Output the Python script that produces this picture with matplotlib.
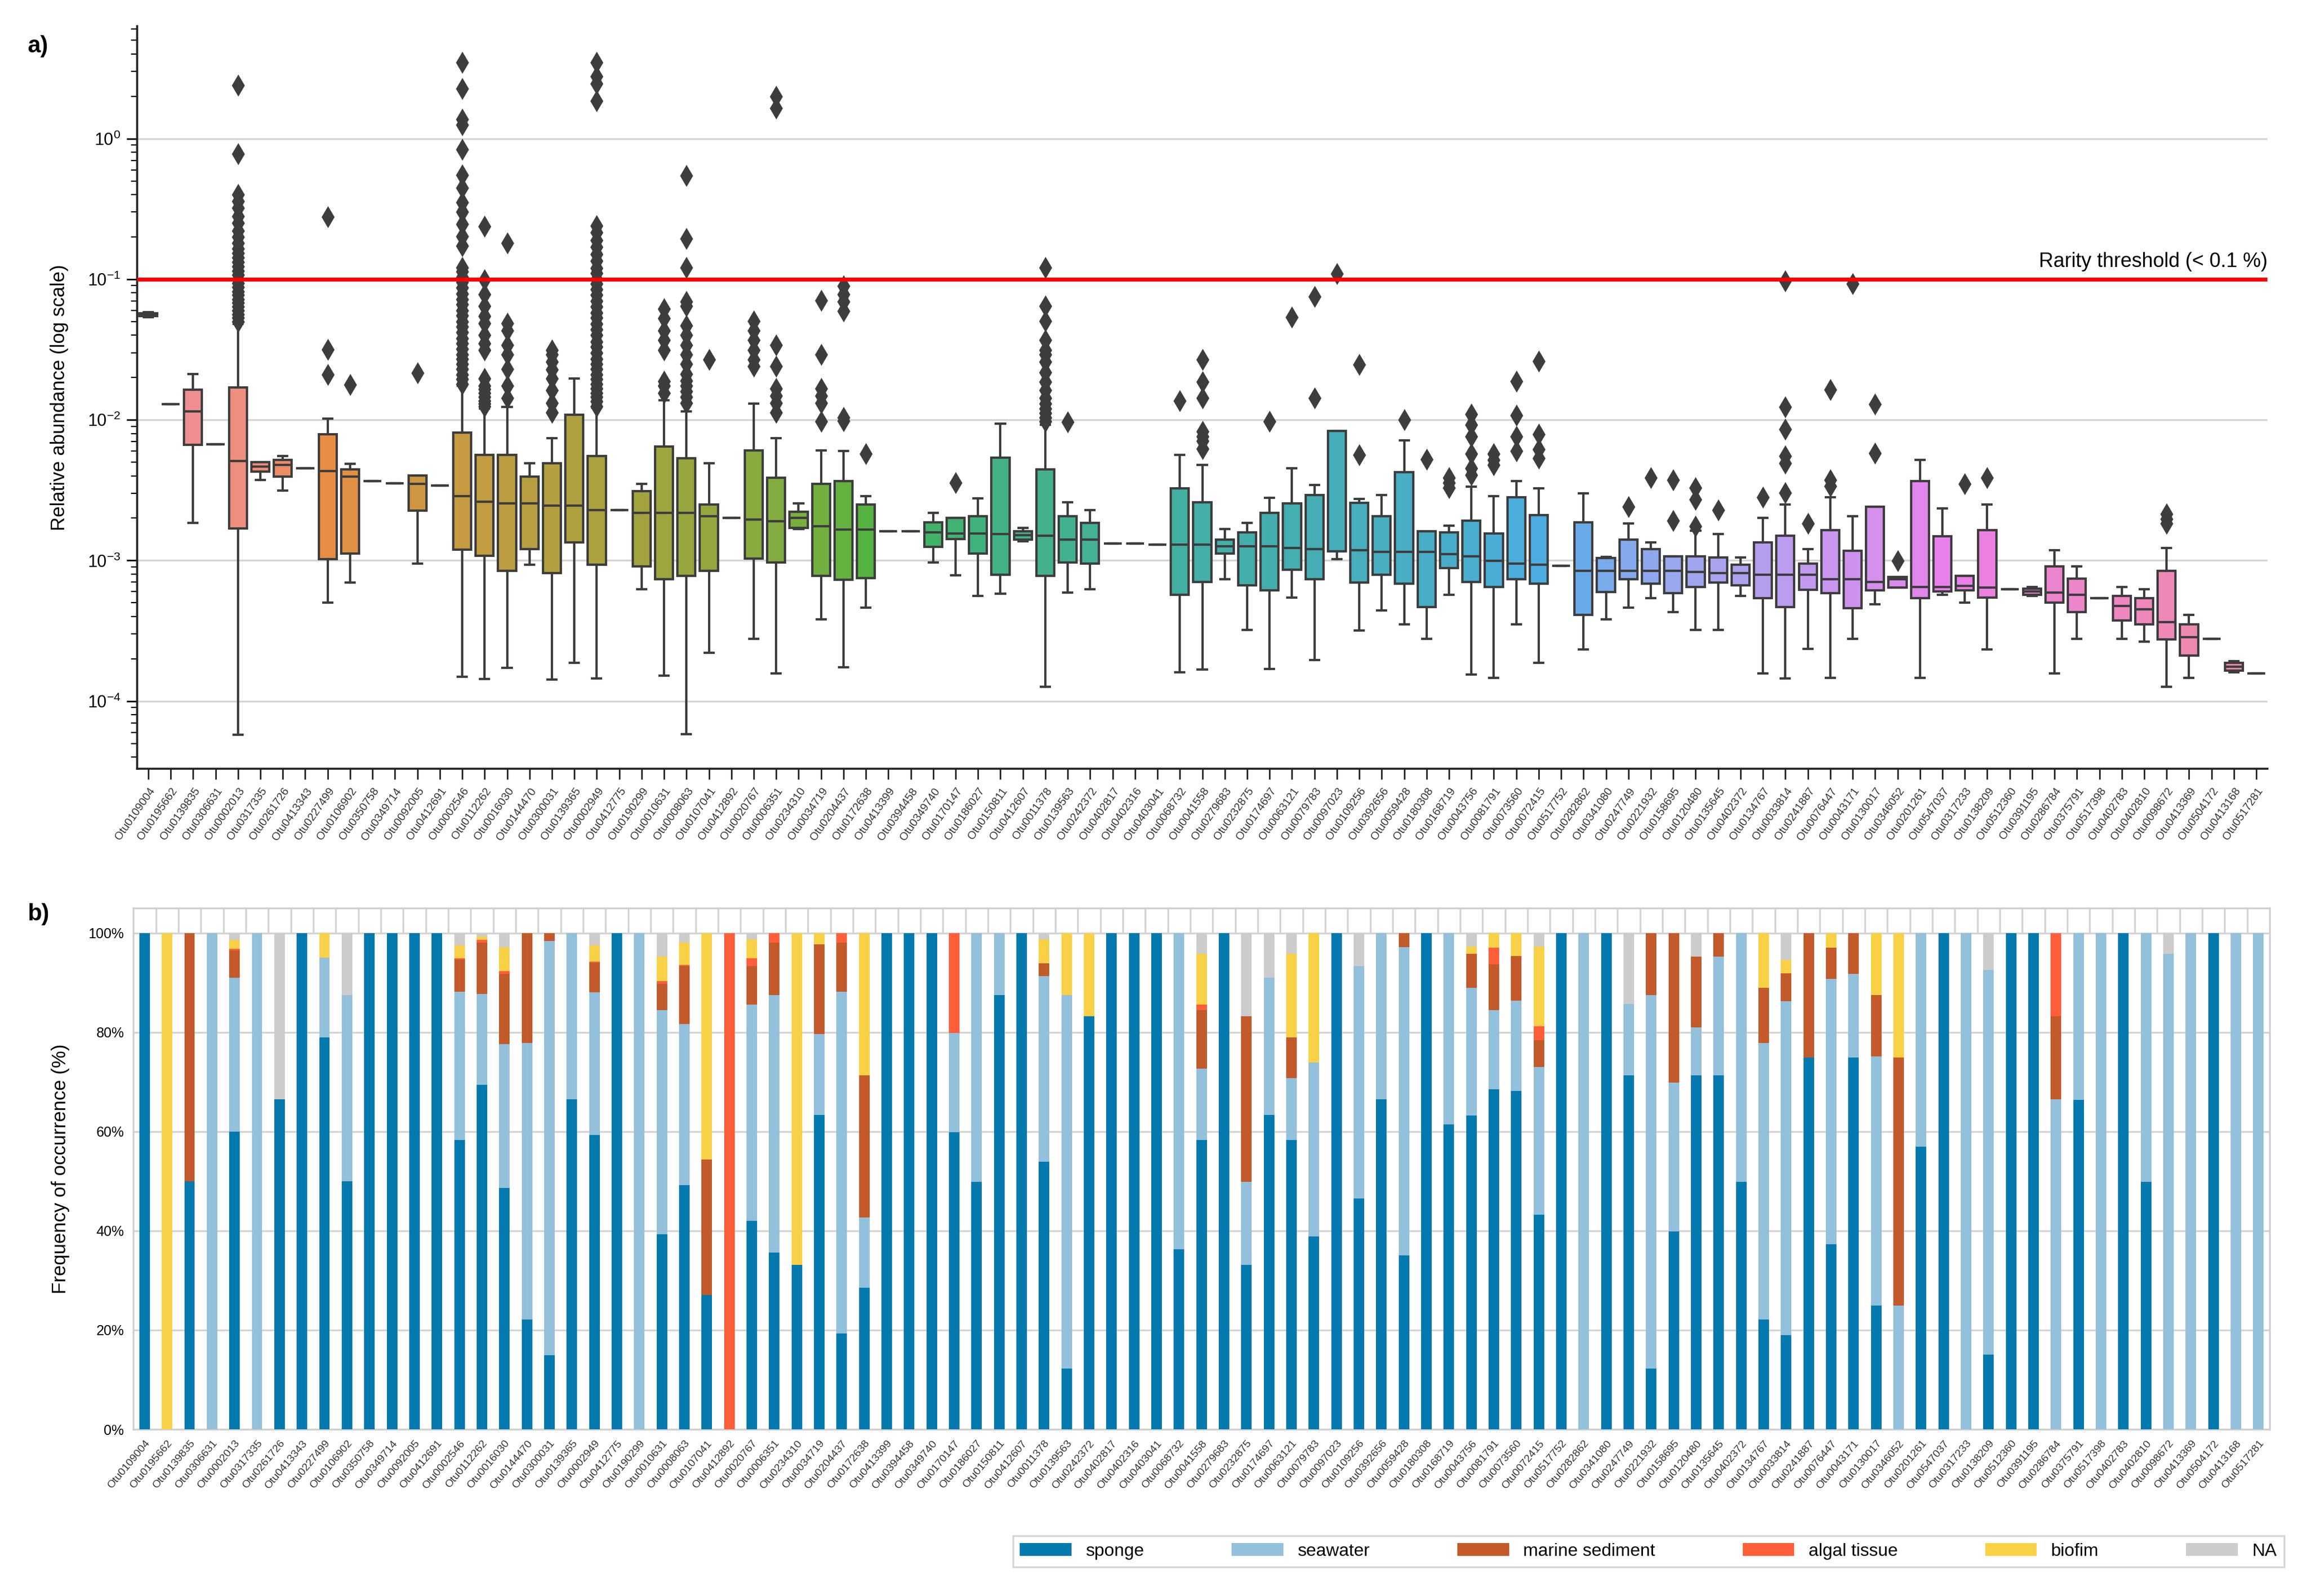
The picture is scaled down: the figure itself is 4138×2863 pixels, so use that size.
import matplotlib
matplotlib.use("Agg")
import matplotlib.pyplot as plt
from matplotlib.patches import Patch
from matplotlib.ticker import LogLocator, NullFormatter, FixedLocator, FuncFormatter
import seaborn as sns

plt.rcParams['font.family'] = ['Liberation Sans', 'DejaVu Sans']
plt.rcParams['mathtext.default'] = 'regular'

# OTU names (same order in both panels)
otus = ["Otu0109004", "Otu0195662", "Otu0139835", "Otu0306631", "Otu0002013", "Otu0317335",
        "Otu0261726", "Otu0413343", "Otu0227499", "Otu0106902", "Otu0350758", "Otu0349714",
        "Otu0092005", "Otu0412691", "Otu0002546", "Otu0112262", "Otu0016030", "Otu0144470",
        "Otu0300031", "Otu0139365", "Otu0002949", "Otu0412775", "Otu0190299", "Otu0010631",
        "Otu0008063", "Otu0107041", "Otu0412892", "Otu0020767", "Otu0006351", "Otu0234310",
        "Otu0034719", "Otu0204437", "Otu0172638", "Otu0413399", "Otu0394458", "Otu0349740",
        "Otu0170147", "Otu0186027", "Otu0150811", "Otu0412607", "Otu0011378", "Otu0139563",
        "Otu0242372", "Otu0402817", "Otu0402316", "Otu0403041", "Otu0068732", "Otu0041558",
        "Otu0279683", "Otu0232875", "Otu0174697", "Otu0063121", "Otu0079783", "Otu0097023",
        "Otu0109256", "Otu0392656", "Otu0059428", "Otu0180308", "Otu0168719", "Otu0043756",
        "Otu0081791", "Otu0073560", "Otu0072415", "Otu0517752", "Otu0282862", "Otu0341080",
        "Otu0247749", "Otu0221932", "Otu0158695", "Otu0120480", "Otu0135645", "Otu0402372",
        "Otu0134767", "Otu0033814", "Otu0241887", "Otu0076447", "Otu0043171", "Otu0130017",
        "Otu0346052", "Otu0201261", "Otu0547037", "Otu0317233", "Otu0138209", "Otu0512360",
        "Otu0391195", "Otu0286784", "Otu0375791", "Otu0517398", "Otu0402783", "Otu0402810",
        "Otu0098672", "Otu0413369", "Otu0504172", "Otu0413168", "Otu0517281"]

# box statistics for relative abundance
med = [0.056, 0.0129, 0.01153, 0.00673, 0.0051, 0.00464, 0.00479, 0.00453, 0.00432, 0.00393,
       0.00366, 0.00355, 0.00349, 0.00341, 0.00286, 0.00262, 0.00254, 0.00254, 0.00246, 0.00246,
       0.00228, 0.00228, 0.00219, 0.00219, 0.00219, 0.00206, 0.0020, 0.00195, 0.0019, 0.0020,
       0.00175, 0.00166, 0.00166, 0.00161, 0.00161, 0.00158, 0.00156, 0.00156, 0.00154, 0.00152,
       0.0015, 0.00141, 0.00141, 0.00132, 0.00132, 0.0013, 0.0013, 0.0013, 0.00126, 0.00126,
       0.00126, 0.00123, 0.0012, 0.00116, 0.00118, 0.00115, 0.00115, 0.00115, 0.00111, 0.00107,
       0.00099, 0.000946, 0.000931, 0.000916, 0.000847, 0.000847, 0.00084, 0.00084, 0.00084, 0.000827,
       0.000814, 0.000814, 0.000795, 0.000795, 0.000795, 0.000735, 0.000735, 0.000706, 0.000735, 0.00065,
       0.00065, 0.00066, 0.000641, 0.000627, 0.000603, 0.000589, 0.00057, 0.000541, 0.000475, 0.00045,
       0.000366, 0.000284, 0.000277, 0.000175, 0.000158]
q1 = [0.0548, 0.0129, 0.00663, 0.00673, 0.001686, 0.00429, 0.00396, 0.00453, 0.00102, 0.001117,
      0.00366, 0.00355, 0.00226, 0.00341, 0.00119, 0.00108, 0.00084, 0.00121, 0.000814, 0.00135,
      0.000931, 0.00228, 0.00091, 0.000735, 0.000776, 0.00084, 0.0020, 0.00103, 0.000968, 0.00171,
      0.000776, 0.000727, 0.000752, 0.00161, 0.00161, 0.00125, 0.00142, 0.001117, 0.000795, 0.00141,
      0.000776, 0.000968, 0.000946, 0.00132, 0.00132, 0.0013, 0.00057, 0.000706, 0.00112, 0.000668,
      0.000612, 0.00086, 0.000735, 0.00116, 0.000694, 0.000795, 0.000683, 0.000468, 0.00088, 0.000706,
      0.00065, 0.000735, 0.000683, 0.000916, 0.000412, 0.000594, 0.000735, 0.000683, 0.000584, 0.00065,
      0.000694, 0.000668, 0.000541, 0.000468, 0.000617, 0.000584, 0.000459, 0.000612, 0.00064, 0.000541,
      0.000603, 0.000612, 0.000545, 0.000627, 0.00057, 0.000502, 0.00043, 0.000541, 0.000373, 0.000352,
      0.000275, 0.00021, 0.000277, 0.000164, 0.000158]
q3 = [0.0572, 0.0129, 0.01645, 0.00673, 0.0170, 0.00502, 0.00519, 0.00453, 0.00789, 0.00443,
      0.00366, 0.00355, 0.00402, 0.00341, 0.00814, 0.00561, 0.00561, 0.00396, 0.00493, 0.01082,
      0.00552, 0.00228, 0.0031, 0.00647, 0.00531, 0.0025, 0.0020, 0.00608, 0.00387, 0.00223,
      0.00349, 0.00366, 0.0025, 0.00161, 0.00161, 0.00187, 0.0020, 0.00206, 0.0054, 0.00162,
      0.00443, 0.00206, 0.00185, 0.00132, 0.00132, 0.0013, 0.00325, 0.00259, 0.00141, 0.00158,
      0.00219, 0.00254, 0.00292, 0.00834, 0.00258, 0.00206, 0.00425, 0.00162, 0.00158, 0.00192,
      0.00156, 0.00282, 0.00211, 0.000916, 0.00187, 0.00104, 0.00141, 0.00121, 0.00107, 0.00107,
      0.00105, 0.000931, 0.00134, 0.0015, 0.00095, 0.00165, 0.00117, 0.00241, 0.000765, 0.00366,
      0.00148, 0.00078, 0.00165, 0.000627, 0.00063, 0.000911, 0.000745, 0.000541, 0.000557, 0.000541,
      0.00084, 0.000352, 0.000277, 0.000187, 0.000158]
whislo = [0.0535, 0.0129, 0.00185, 0.00673, 5.74e-5, 0.00372, 0.00315, 0.00453, 0.000502, 0.000695,
          0.00366, 0.00355, 0.000946, 0.00341, 0.000149, 0.000143, 0.000173, 0.000931, 0.000142, 0.000187,
          0.000145, 0.00228, 0.000627, 0.000151, 5.8e-5, 0.000221, 0.0020, 0.000277, 0.000157, 0.00168,
          0.000381, 0.000174, 0.00046, 0.00161, 0.00161, 0.000968, 0.000782, 0.000557, 0.000579, 0.00137,
          0.000126, 0.000589, 0.000627, 0.00132, 0.00132, 0.0013, 0.00016, 0.000167, 0.000735, 0.00032,
          0.000169, 0.000545, 0.000196, 0.00102, 0.000318, 0.00044, 0.000352, 0.000277, 0.00057, 0.000154,
          0.000146, 0.000352, 0.000187, 0.000916, 0.000233, 0.000381, 0.00046, 0.00054, 0.00043, 0.00032,
          0.00032, 0.000557, 0.000157, 0.000145, 0.000236, 0.000146, 0.000277, 0.00049, 0.00064, 0.000146,
          0.00057, 0.000502, 0.000233, 0.000627, 0.000557, 0.000157, 0.000277, 0.000541, 0.000277, 0.000265,
          0.000126, 0.000146, 0.000277, 0.00016, 0.000158]
whishi = [0.0585, 0.0129, 0.0212, 0.00673, 0.0479, 0.00502, 0.00552, 0.00453, 0.01016, 0.00487,
          0.00366, 0.00355, 0.00402, 0.00341, 0.0174, 0.0120, 0.0124, 0.00493, 0.0074, 0.0196,
          0.0122, 0.00228, 0.00352, 0.01372, 0.01144, 0.00493, 0.0020, 0.013, 0.0074, 0.00254,
          0.00608, 0.006, 0.00286, 0.00161, 0.00161, 0.00219, 0.0020, 0.00277, 0.0094, 0.00171,
          0.00924, 0.00259, 0.00228, 0.00132, 0.00132, 0.0013, 0.00561, 0.00479, 0.00168, 0.00185,
          0.0028, 0.00453, 0.00344, 0.00834, 0.00275, 0.00292, 0.00712, 0.00162, 0.00177, 0.00336,
          0.00286, 0.00366, 0.00325, 0.000916, 0.0030, 0.00106, 0.00183, 0.00134, 0.00107, 0.00163,
          0.00154, 0.00105, 0.002, 0.00249, 0.0012, 0.00282, 0.00206, 0.00241, 0.000765, 0.00519,
          0.00234, 0.00078, 0.00249, 0.000627, 0.00065, 0.00118, 0.000911, 0.000541, 0.00065, 0.000627,
          0.00123, 0.000412, 0.000277, 0.000193, 0.000158]
fliers = [[] for _ in otus]
fliers[4] = [0.05, 0.053, 0.056, 0.06, 0.064, 0.068, 0.072, 0.077, 0.082, 0.088, 0.094, 0.1, 0.107,
             0.115, 0.123, 0.132, 0.142, 0.153, 0.165, 0.18, 0.2, 0.22, 0.25, 0.28, 0.32, 0.36, 0.4,
             0.78, 2.4]
fliers[8] = [0.021, 0.0315, 0.277]
fliers[9] = [0.0178]
fliers[12] = [0.0216]
fliers[14] = [0.018, 0.0195, 0.021, 0.023, 0.025, 0.027, 0.029, 0.032, 0.035, 0.038, 0.042, 0.046,
              0.05, 0.055, 0.06, 0.066, 0.072, 0.079, 0.087, 0.095, 0.104, 0.113, 0.121, 0.173, 0.202,
              0.246, 0.3, 0.352, 0.446, 0.552, 0.84, 1.25, 1.37, 2.26, 3.49]
fliers[15] = [0.0125, 0.013, 0.0137, 0.0145, 0.0155, 0.0165, 0.0175, 0.0196, 0.0314, 0.035, 0.04,
              0.0487, 0.0546, 0.0645, 0.0782, 0.0993, 0.237]
fliers[16] = [0.0143, 0.0174, 0.0229, 0.029, 0.0341, 0.0433, 0.0487, 0.18]
fliers[18] = [0.0113, 0.0132, 0.0162, 0.0196, 0.0228, 0.0259, 0.029, 0.0314]
fliers[20] = [0.0125, 0.0135, 0.0145, 0.0155, 0.0167, 0.018, 0.0195, 0.021, 0.023, 0.025, 0.027,
              0.03, 0.033, 0.036, 0.04, 0.044, 0.048, 0.053, 0.058, 0.064, 0.07, 0.077, 0.085, 0.093,
              0.1, 0.11, 0.12, 0.135, 0.15, 0.17, 0.19, 0.215, 0.24, 1.85, 2.45, 2.76, 3.49]
fliers[23] = [0.0155, 0.0174, 0.0188, 0.0314, 0.0369, 0.0433, 0.0526, 0.0617]
fliers[24] = [0.0132, 0.0145, 0.016, 0.0175, 0.019, 0.0212, 0.0249, 0.029, 0.0341, 0.04, 0.047,
              0.0645, 0.0694, 0.121, 0.194, 0.543]
fliers[25] = [0.0269]
fliers[27] = [0.024, 0.0269, 0.0314, 0.0369, 0.0433, 0.0505]
fliers[28] = [0.0113, 0.0132, 0.0148, 0.0167, 0.024, 0.0341, 1.65, 2.0]
fliers[30] = [0.00977, 0.0132, 0.0148, 0.0167, 0.029, 0.0706]
fliers[31] = [0.0098, 0.0104, 0.0592, 0.0694, 0.0782, 0.0893]
fliers[32] = [0.00575]
fliers[36] = [0.00357]
fliers[40] = [0.0097, 0.0104, 0.0112, 0.012, 0.013, 0.0143, 0.0162, 0.0186, 0.0218, 0.0259, 0.029,
              0.0314, 0.0369, 0.0505, 0.0645, 0.121]
fliers[41] = [0.00964]
fliers[46] = [0.0137]
fliers[47] = [0.00625, 0.00709, 0.00764, 0.00823, 0.0143, 0.0186, 0.0269]
fliers[50] = [0.00977]
fliers[51] = [0.0535]
fliers[52] = [0.0143, 0.0752]
fliers[53] = [0.109]
fliers[54] = [0.00561, 0.0248]
fliers[56] = [0.01004]
fliers[57] = [0.00523]
fliers[58] = [0.0033, 0.00357, 0.00387]
fliers[59] = [0.00405, 0.00453, 0.00575, 0.0076, 0.00925, 0.011]
fliers[60] = [0.0048, 0.0052, 0.00575]
fliers[61] = [0.006, 0.0076, 0.0108, 0.0188]
fliers[62] = [0.00531, 0.00617, 0.00791, 0.0262]
fliers[66] = [0.00242]
fliers[67] = [0.00387]
fliers[68] = [0.00192, 0.00372]
fliers[69] = [0.00175, 0.00272, 0.0033]
fliers[70] = [0.00228]
fliers[72] = [0.00282]
fliers[73] = [0.00304, 0.00493, 0.00552, 0.00859, 0.0124, 0.0969]
fliers[74] = [0.00183]
fliers[75] = [0.00337, 0.00372, 0.0164]
fliers[76] = [0.0932]
fliers[77] = [0.0058, 0.0129]
fliers[78] = [0.00099]
fliers[81] = [0.0035]
fliers[82] = [0.00387]
fliers[90] = [0.00183, 0.00198, 0.00215]

# frequency of occurrence (%) per habitat
sponge = [100, 0, 50, 0, 60, 0, 66.5, 100, 79, 50, 100, 100, 100, 100, 58.3, 69.4, 48.6, 22.1, 14.9, 66.5,
          59.3, 100, 0, 39.3, 49.2, 27.1, 0, 42.0, 35.6, 33.1, 63.4, 19.3, 28.5, 100, 100, 100, 59.9, 49.9,
          87.5, 100, 53.9, 12.3, 83.2, 100, 100, 100, 36.3, 58.3, 100, 33.1, 63.4, 58.3, 38.9, 100, 46.5,
          66.5, 35.0, 100, 61.4, 63.2, 68.5, 68.2, 43.2, 100, 0, 100, 71.3, 12.3, 39.9, 71.3, 71.3, 49.9,
          22.1, 19.0, 74.9, 37.3, 74.9, 24.9, 0, 56.9, 100, 0, 15.1, 100, 100, 0, 66.4, 0, 100, 49.9, 0,
          0, 100, 0, 0]
seawater = [0, 0, 0, 100, 31, 100, 0, 0, 16, 37.5, 0, 0, 0, 0, 29.9, 18.3, 29.0, 55.7, 83.5, 33.5,
            28.7, 0, 100, 45.1, 32.5, 0, 0, 43.6, 51.9, 0, 16.2, 68.9, 14.2, 0, 0, 0, 20, 50.1,
            12.5, 0, 37.4, 75.2, 0, 0, 0, 0, 63.7, 14.4, 0, 16.8, 27.6, 12.5, 35.0, 0, 46.8,
            33.5, 62.2, 0, 38.6, 25.7, 15.9, 18.2, 29.8, 0, 100, 0, 14.4, 75.2, 30.0, 9.7, 23.9, 50.1,
            55.7, 67.3, 0, 53.4, 16.9, 50.2, 24.9, 43.1, 0, 100, 77.4, 0, 0, 66.5, 33.6, 100, 0, 50.1, 95.8,
            100, 0, 100, 100]
sediment = [0, 0, 50, 0, 5.5, 0, 0, 0, 0, 0, 0, 0, 0, 0, 6.5, 10.3, 14.1, 22.2, 1.6, 0,
            6.0, 0, 0, 5.3, 11.6, 27.3, 0, 7.7, 10.5, 0, 18.1, 9.8, 28.6, 0, 0, 0, 0, 0,
            0, 0, 2.6, 0, 0, 0, 0, 0, 0, 11.7, 0, 33.3, 0, 8.2, 0, 0, 0,
            0, 2.8, 0, 0, 6.9, 9.3, 9.0, 5.4, 0, 0, 0, 0, 12.5, 30.1, 14.2, 4.8, 0,
            11.1, 5.6, 25.1, 6.3, 8.2, 12.4, 50.0, 0, 0, 0, 0, 0, 0, 16.7, 0, 0, 0, 0, 0,
            0, 0, 0, 0]
algal = [0, 0, 0, 0, 0.3, 0, 0, 0, 0, 0, 0, 0, 0, 0, 0.2, 0.6, 0.6, 0, 0, 0,
         0.2, 0, 0, 0.6, 0.2, 0, 100, 1.6, 2.0, 0, 0, 2.0, 0, 0, 0, 0, 20.1, 0,
         0, 0, 0, 0, 0, 0, 0, 0, 0, 1.2, 0, 0, 0, 0, 0, 0, 0,
         0, 0, 0, 0, 0, 3.3, 0, 2.8, 0, 0, 0, 0, 0, 0, 0, 0, 0,
         0, 0, 0, 0, 0, 0, 0, 0, 0, 0, 0, 0, 0, 16.8, 0, 0, 0, 0, 0,
         0, 0, 0, 0]
biofilm = [0, 100, 0, 0, 1.8, 0, 0, 0, 5, 0, 0, 0, 0, 0, 2.6, 0.7, 4.9, 0, 0, 0,
           3.3, 0, 0, 4.9, 4.5, 45.6, 0, 3.8, 0, 66.9, 2.3, 0, 28.7, 0, 0, 0, 0, 0,
           0, 0, 4.8, 12.5, 16.8, 0, 0, 0, 0, 10.2, 0, 0, 0, 16.8, 26.1, 0, 0,
           0, 0, 0, 0, 1.5, 3.0, 4.6, 16.1, 0, 0, 0, 0, 0, 0, 0, 0, 0,
           11.1, 2.7, 0, 3.0, 0, 12.5, 25.1, 0, 0, 0, 0, 0, 0, 0, 0, 0, 0, 0, 0,
           0, 0, 0, 0]
na = [0, 0, 0, 0, 1.4, 0, 33.5, 0, 0, 12.5, 0, 0, 0, 0, 2.5, 0.7, 2.8, 0, 0, 0,
      2.5, 0, 0, 4.8, 2.0, 0, 0, 1.3, 0, 0, 0, 0, 0, 0, 0, 0, 0, 0,
      0, 0, 1.3, 0, 0, 0, 0, 0, 0, 4.2, 0, 16.8, 9.0, 4.2, 0, 0, 6.7,
      0, 0, 0, 0, 2.7, 0, 0, 2.7, 0, 0, 0, 14.3, 0, 0, 4.8, 0, 0,
      0, 5.4, 0, 0, 0, 0, 0, 0, 0, 0, 7.5, 0, 0, 0, 0, 0, 0, 0, 4.2,
      0, 0, 0, 0]

habitats = ["sponge", "seawater", "marine sediment", "algal tissue", "biofim", "NA"]
hab_colors = ["#0479ae", "#93c0db", "#c25a2b", "#ff5e3a", "#f8d146", "#cccccc"]

fig = plt.figure(figsize=(20.69, 14.315), dpi=200)
ax1 = fig.add_axes([0.0594, 0.5183, 0.9235, 0.4653])
ax2 = fig.add_axes([0.0578, 0.1044, 0.926, 0.3266])

# ---- a) boxplots
n = len(otus)
pos = list(range(n))
stats = []
for i in range(n):
    stats.append(dict(med=med[i], q1=q1[i], q3=q3[i], whislo=whislo[i], whishi=whishi[i],
                      fliers=fliers[i]))
gray = "#3d3d3d"
bp = ax1.bxp(stats, positions=pos, widths=0.8, patch_artist=True, showfliers=True,
             boxprops=dict(edgecolor=gray, linewidth=1.5),
             medianprops=dict(color=gray, linewidth=1.5),
             whiskerprops=dict(color=gray, linewidth=1.5),
             capprops=dict(color=gray, linewidth=1.5),
             flierprops=dict(marker="d", markerfacecolor=gray, markeredgecolor=gray,
                             markersize=8.5, linestyle="none"))
pal = sns.color_palette(sns.husl_palette(n, h=0.01, s=0.9, l=0.69), desat=0.85)
for patch, c in zip(bp["boxes"], pal):
    patch.set_facecolor(c)

ax1.set_yscale("log")
ax1.set_ylim(3.3e-5, 6.3)
ax1.set_xlim(-0.5, n - 0.5)
ax1.yaxis.set_major_locator(LogLocator(base=10, numticks=10))
ax1.yaxis.set_minor_locator(LogLocator(base=10, subs=range(2, 10), numticks=50))
ax1.yaxis.set_minor_formatter(NullFormatter())
ax1.grid(axis="y", which="major", color="#d4d4d4", linewidth=1.2)
ax1.set_axisbelow(True)
ax1.axhline(0.1, color="#ff0000", linewidth=2.5, zorder=5)
ax1.text(n - 0.5, 0.1 * 1.13, "Rarity threshold (< 0.1 %)", ha="right", va="bottom", fontsize=13)
ax1.set_ylabel("Relative abundance (log scale)", fontsize=12.5, labelpad=12)
ax1.set_xticks(pos)
ax1.set_xticklabels(otus, rotation=55, ha="right", rotation_mode="anchor", fontsize=7.2, color="#333333")
ax1.tick_params(axis="x", length=7, width=1, color="#222222", pad=4)
ax1.tick_params(axis="y", which="major", length=7, width=1, labelsize=11)
ax1.tick_params(axis="y", which="minor", length=4, width=0.8)
for s in ["top", "right"]:
    ax1.spines[s].set_visible(False)
for s in ["left", "bottom"]:
    ax1.spines[s].set_color("#222222")
    ax1.spines[s].set_linewidth(1.3)

# ---- b) stacked bars
series = [sponge, seawater, sediment, algal, biofilm, na]
bottom = [0.0] * n
for vals, lab, c in zip(series, habitats, hab_colors):
    ax2.bar(pos, vals, bottom=bottom, width=0.47, color=c, label=lab, zorder=3)
    bottom = [b + v for b, v in zip(bottom, vals)]

ax2.set_xlim(-0.5, n - 0.5)
ax2.set_ylim(0, 105)
ax2.yaxis.set_major_locator(FixedLocator([0, 20, 40, 60, 80, 100]))
ax2.yaxis.set_major_formatter(FuncFormatter(lambda v, p: "%d%%" % v))
ax2.grid(axis="y", color="#d4d4d4", linewidth=1.2, zorder=0)
for k in range(n - 1):
    ax2.axvline(k + 0.5, ymin=100 / 105, ymax=1, color="#d4d4d4", linewidth=1.2, zorder=0)
ax2.set_xticks(pos)
ax2.set_xticklabels(otus, rotation=50, ha="right", rotation_mode="anchor", fontsize=7, color="#333333")
ax2.tick_params(axis="x", length=0, pad=6)
ax2.tick_params(axis="y", length=0, labelsize=9, pad=6)
for s in ax2.spines.values():
    s.set_color("#d0d0d0")
    s.set_linewidth(1.2)
ax2.set_ylabel("Frequency of occurrence (%)", fontsize=12.5, labelpad=12)

handles = [Patch(facecolor=c, edgecolor="none") for c in hab_colors]
leg = fig.legend(handles, habitats, ncol=6, loc="center", bbox_to_anchor=(0.439, 0.0115, 0.551, 0.033),
                 mode="expand", frameon=True, fancybox=False, edgecolor="#cccccc", fontsize=11.5,
                 handlelength=2.9, handleheight=0.75, borderaxespad=0, handletextpad=0.8)
leg.get_frame().set_linewidth(1.2)

fig.text(0.012, 0.978, "a)", fontsize=15, fontweight="bold", va="top")
fig.text(0.012, 0.434, "b)", fontsize=15, fontweight="bold", va="top")

fig.savefig("out.png", dpi=200)
